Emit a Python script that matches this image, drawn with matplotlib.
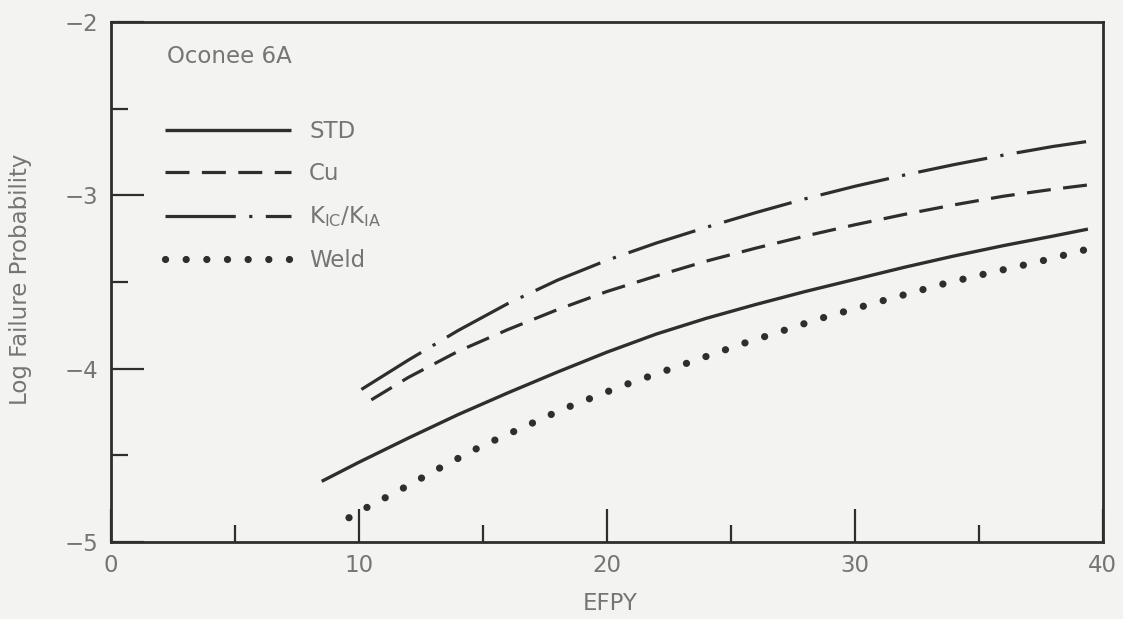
import matplotlib.pyplot as plt
from matplotlib.ticker import MultipleLocator

plt.rcParams['font.family'] = ['DejaVu Sans']
plt.rcParams['mathtext.fontset'] = 'dejavusans'

# values (EFPY vs log failure probability)
std_x = [8.5, 10, 12, 14, 16, 18, 20, 22, 24, 26, 28, 30, 32, 34, 36, 38, 39.4]
std_y = [-4.65, -4.54, -4.40, -4.265, -4.14, -4.02, -3.905, -3.80, -3.71, -3.63, -3.555,
         -3.485, -3.415, -3.35, -3.29, -3.235, -3.195]

cu_x = [10.5, 12, 14, 16, 18, 20, 22, 24, 26, 28, 30, 32, 34, 36, 38, 39.7]
cu_y = [-4.18, -4.05, -3.90, -3.775, -3.66, -3.555, -3.465, -3.38, -3.305, -3.235,
        -3.17, -3.11, -3.055, -3.005, -2.965, -2.935]

kic_x = [10.1, 12, 14, 16, 18, 20, 22, 24, 26, 28, 30, 32, 34, 36, 38, 39.35]
kic_y = [-4.12, -3.95, -3.78, -3.625, -3.49, -3.375, -3.275, -3.185, -3.10, -3.02,
         -2.948, -2.883, -2.823, -2.768, -2.718, -2.69]

weld_x = [9.6, 10.2, 11.65, 13.3, 14.9, 16.6, 18.2, 20.7, 23.5, 25.7, 26.7, 28.5,
          31.2, 33.6, 35.35, 37.5, 39.4]
weld_y = [-4.86, -4.81, -4.70, -4.57, -4.45, -4.34, -4.235, -4.095, -3.955, -3.845,
          -3.80, -3.715, -3.605, -3.51, -3.45, -3.38, -3.31]

labels = ['STD', 'Cu', r'K$_{\mathrm{IC}}$/K$_{\mathrm{IA}}$', 'Weld']
xticks = [0, 10, 20, 30, 40]
yticks = [-5, -4, -3, -2]

ink = '#2e2e2e'
txt = '#757575'
bg = '#f3f3f1'
fs = 16.5

fig = plt.figure(figsize=(11.23, 6.19), dpi=100, facecolor=bg)
ax = fig.add_axes([0.0988, 0.1244, 0.8832, 0.8401], facecolor=bg)

ax.plot(std_x, std_y, color=ink, lw=2.4, solid_capstyle='butt', label=labels[0])
ax.plot(cu_x, cu_y, color=ink, lw=2.3, linestyle=(0, (7.5, 3.9)), dash_capstyle='butt', label=labels[1])
ax.plot(kic_x, kic_y, color=ink, lw=2.3, linestyle=(0, (22, 4.2, 1.0, 4.2)), dash_capstyle='butt', label=labels[2])
ax.plot(weld_x, weld_y, color=ink, lw=5.2, linestyle=(0, (0.01, 2.85)), dash_capstyle='round', label=labels[3])

ax.set_xlim(0, 40)
ax.set_ylim(-5, -2)

ax.xaxis.set_minor_locator(MultipleLocator(5))
ax.yaxis.set_minor_locator(MultipleLocator(0.5))
ax.set_xticks(xticks)
ax.set_xticklabels([str(t) for t in xticks])
ax.set_yticks(yticks)
ax.set_yticklabels(['\u2212' + str(abs(t)) for t in yticks])

ax.tick_params(axis='both', which='major', direction='in', length=24, width=1.6,
               color=ink, labelcolor=txt, labelsize=fs)
ax.tick_params(axis='both', which='minor', direction='in', length=12.5, width=1.6, color=ink)
ax.tick_params(axis='x', which='both', top=False, pad=9)
ax.tick_params(axis='y', which='both', right=False, pad=9)

for s in ax.spines.values():
    s.set_color(ink)
    s.set_linewidth(2.0)

ax.set_xlabel('EFPY', color=txt, fontsize=fs)
ax.xaxis.set_label_coords(0.503, -0.097)
ax.set_ylabel('Log Failure Probability', color=txt, fontsize=fs)
ax.yaxis.set_label_coords(-0.08, 0.505)

ax.text(2.26, -2.202, 'Oconee 6A', color=txt, fontsize=fs, va='center', ha='left')

leg = ax.legend(loc='upper left', bbox_to_anchor=(0.045, 0.829), frameon=False,
                fontsize=fs, handlelength=5.5, handletextpad=0.8, labelspacing=0.84,
                borderaxespad=0)
for t in leg.get_texts():
    t.set_color(txt)

plt.savefig('out.png', dpi=100, facecolor=bg)
